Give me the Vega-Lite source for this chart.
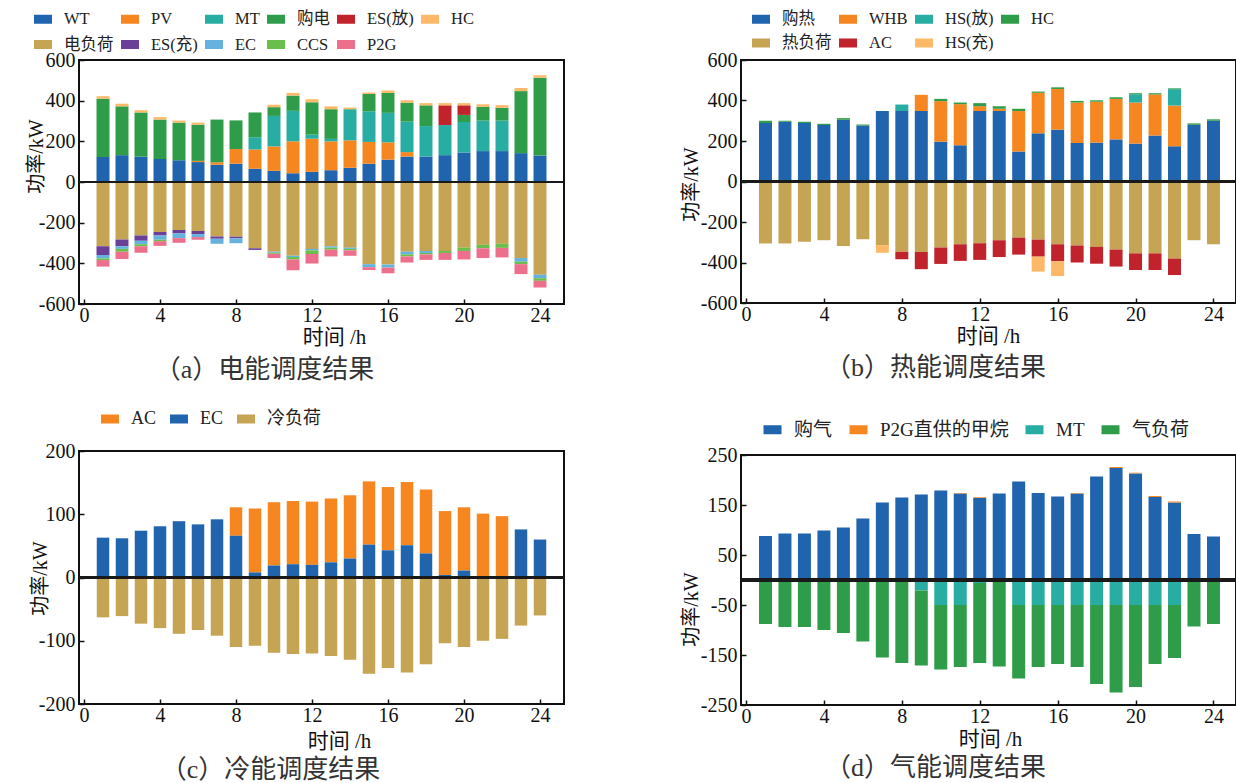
{
  "$schema": "https://vega.github.io/schema/vega-lite/v6.json",
  "padding": {"left": 25, "top": 9, "right": 0, "bottom": 0},
  "background": "#ffffff",
  "config": {
    "font": "Liberation Serif, Times New Roman, Noto Sans CJK SC, serif",
    "view": {"stroke": "#111111", "strokeWidth": 2},
    "axis": {
      "grid": false, "domain": false, "ticks": true, "tickSize": -5, "tickColor": "#111111", "tickWidth": 1.5,
      "labelFont": "Liberation Serif, Times New Roman, serif", "labelFontSize": 20, "labelColor": "#111111", "labelPadding": 6,
      "labelFlush": false, "labelOverlap": false,
      "titleFont": "Liberation Serif, Times New Roman, Noto Sans CJK SC, serif", "titleFontSize": 20, "titleFontWeight": "normal", "titleColor": "#111111"
    },
    "axisY": {"titleAngle": -90, "titleAlign": "center", "titleBaseline": "middle", "labelPadding": 9},
    "axisX": {"titleAlign": "center", "titleBaseline": "middle", "titleFontSize": 21, "labelPadding": 6},
    "legend": {
      "orient": "none", "direction": "horizontal", "padding": 0,
      "labelFont": "Liberation Serif, Times New Roman, Noto Sans CJK SC, serif", "labelFontSize": 16.5, "labelColor": "#222222",
      "symbolType": "M-1,-0.5H1V0.5H-1Z", "symbolSize": 324, "symbolStrokeWidth": 0, "symbolOpacity": 1,
      "labelOffset": 12, "columnPadding": 7, "rowPadding": 7
    },
    "title": {"orient": "bottom", "anchor": "middle", "fontSize": 26, "fontWeight": "normal", "font": "Liberation Serif, Times New Roman, Noto Sans CJK SC, serif", "color": "#333333", "offset": 8}
  },
  "datasets": {
    "elec": [
      {"h": 1, "WT": 123, "PV": 0, "MT": 0, "购电": 287, "ES(放)": 0, "HC": 12, "电负荷": -316, "ES(充)": -43, "EC": -17, "CCS": -8, "P2G": -32},
      {"h": 2, "WT": 132, "PV": 0, "MT": 0, "购电": 240, "ES(放)": 0, "HC": 13, "电负荷": -283, "ES(充)": -33, "EC": -13, "CCS": -14, "P2G": -36},
      {"h": 3, "WT": 125, "PV": 0, "MT": 0, "购电": 217, "ES(放)": 0, "HC": 11, "电负荷": -263, "ES(充)": -26, "EC": -17, "CCS": -10, "P2G": -32},
      {"h": 4, "WT": 113, "PV": 0, "MT": 0, "购电": 194, "ES(放)": 0, "HC": 12, "电负荷": -246, "ES(充)": -17, "EC": -21, "CCS": -7, "P2G": -23},
      {"h": 5, "WT": 107, "PV": 0, "MT": 0, "购电": 185, "ES(放)": 0, "HC": 10, "电负荷": -236, "ES(充)": -17, "EC": -23, "CCS": 0, "P2G": -23},
      {"h": 6, "WT": 98, "PV": 6, "MT": 0, "购电": 178, "ES(放)": 0, "HC": 10, "电负荷": -241, "ES(充)": -15, "EC": -15, "CCS": 0, "P2G": -13},
      {"h": 7, "WT": 85, "PV": 12, "MT": 0, "购电": 210, "ES(放)": 0, "HC": 0, "电负荷": -268, "ES(充)": -11, "EC": -25, "CCS": 0, "P2G": 0},
      {"h": 8, "WT": 90, "PV": 72, "MT": 0, "购电": 141, "ES(放)": 0, "HC": 0, "电负荷": -269, "ES(充)": -8, "EC": -24, "CCS": 0, "P2G": 0},
      {"h": 9, "WT": 65, "PV": 95, "MT": 60, "购电": 122, "ES(放)": 0, "HC": 0, "电负荷": -326, "ES(充)": -8, "EC": 0, "CCS": 0, "P2G": 0},
      {"h": 10, "WT": 55, "PV": 120, "MT": 150, "购电": 43, "ES(放)": 0, "HC": 12, "电负荷": -343, "ES(充)": 0, "EC": -5, "CCS": -5, "P2G": -21},
      {"h": 11, "WT": 43, "PV": 157, "MT": 150, "购电": 75, "ES(放)": 0, "HC": 13, "电负荷": -363, "ES(充)": 0, "EC": -6, "CCS": -12, "P2G": -53},
      {"h": 12, "WT": 50, "PV": 163, "MT": 20, "购电": 159, "ES(放)": 0, "HC": 15, "电负荷": -329, "ES(充)": 0, "EC": -7, "CCS": -18, "P2G": -47},
      {"h": 13, "WT": 58, "PV": 142, "MT": 12, "购电": 146, "ES(放)": 0, "HC": 14, "电负荷": -316, "ES(充)": 0, "EC": -7, "CCS": -10, "P2G": -33},
      {"h": 14, "WT": 70, "PV": 135, "MT": 153, "购电": 0, "ES(放)": 0, "HC": 8, "电负荷": -323, "ES(充)": 0, "EC": -6, "CCS": -7, "P2G": -27},
      {"h": 15, "WT": 90, "PV": 107, "MT": 151, "购电": 85, "ES(放)": 0, "HC": 7, "电负荷": -404, "ES(充)": 0, "EC": -15, "CCS": 0, "P2G": -14},
      {"h": 16, "WT": 110, "PV": 85, "MT": 145, "购电": 98, "ES(放)": 0, "HC": 12, "电负荷": -406, "ES(充)": 0, "EC": -15, "CCS": 0, "P2G": -28},
      {"h": 17, "WT": 125, "PV": 22, "MT": 150, "购电": 93, "ES(放)": 0, "HC": 12, "电负荷": -343, "ES(充)": 0, "EC": -13, "CCS": -10, "P2G": -30},
      {"h": 18, "WT": 125, "PV": 0, "MT": 150, "购电": 102, "ES(放)": 0, "HC": 11, "电负荷": -339, "ES(充)": 0, "EC": -10, "CCS": -7, "P2G": -27},
      {"h": 19, "WT": 132, "PV": 0, "MT": 148, "购电": 0, "ES(放)": 97, "HC": 11, "电负荷": -339, "ES(充)": 0, "EC": 0, "CCS": -10, "P2G": -34},
      {"h": 20, "WT": 145, "PV": 0, "MT": 150, "购电": 35, "ES(放)": 47, "HC": 11, "电负荷": -323, "ES(充)": 0, "EC": 0, "CCS": -16, "P2G": -42},
      {"h": 21, "WT": 152, "PV": 0, "MT": 150, "购电": 68, "ES(放)": 0, "HC": 12, "电负荷": -309, "ES(充)": 0, "EC": 0, "CCS": -17, "P2G": -48},
      {"h": 22, "WT": 152, "PV": 0, "MT": 150, "购电": 63, "ES(放)": 0, "HC": 13, "电负荷": -304, "ES(充)": 0, "EC": 0, "CCS": -20, "P2G": -47},
      {"h": 23, "WT": 142, "PV": 0, "MT": 0, "购电": 305, "ES(放)": 0, "HC": 15, "电负荷": -374, "ES(充)": 0, "EC": -18, "CCS": -12, "P2G": -49},
      {"h": 24, "WT": 130, "PV": 0, "MT": 0, "购电": 383, "ES(放)": 0, "HC": 12, "电负荷": -456, "ES(充)": 0, "EC": -17, "CCS": -13, "P2G": -33}
    ],
    "heat": [
      {"h": 1, "购热": 289, "WHB": 0, "HS(放)": 0, "HC": 11, "热负荷": -306, "AC": 0, "HS(充)": 0},
      {"h": 2, "购热": 295, "WHB": 0, "HS(放)": 0, "HC": 5, "热负荷": -306, "AC": 0, "HS(充)": 0},
      {"h": 3, "购热": 289, "WHB": 0, "HS(放)": 0, "HC": 6, "热负荷": -298, "AC": 0, "HS(充)": 0},
      {"h": 4, "购热": 279, "WHB": 0, "HS(放)": 0, "HC": 6, "热负荷": -290, "AC": 0, "HS(充)": 0},
      {"h": 5, "购热": 305, "WHB": 0, "HS(放)": 0, "HC": 8, "热负荷": -318, "AC": 0, "HS(充)": 0},
      {"h": 6, "购热": 277, "WHB": 0, "HS(放)": 0, "HC": 5, "热负荷": -285, "AC": 0, "HS(充)": 0},
      {"h": 7, "购热": 348, "WHB": 0, "HS(放)": 0, "HC": 0, "热负荷": -314, "AC": 0, "HS(充)": -38},
      {"h": 8, "购热": 348, "WHB": 0, "HS(放)": 32, "HC": 0, "热负荷": -347, "AC": -37, "HS(充)": 0},
      {"h": 9, "购热": 348, "WHB": 80, "HS(放)": 0, "HC": 0, "热负荷": -348, "AC": -85, "HS(充)": 0},
      {"h": 10, "购热": 197, "WHB": 200, "HS(放)": 0, "HC": 11, "热负荷": -326, "AC": -81, "HS(充)": 0},
      {"h": 11, "购热": 179, "WHB": 203, "HS(放)": 0, "HC": 8, "热负荷": -310, "AC": -82, "HS(充)": 0},
      {"h": 12, "购热": 348, "WHB": 24, "HS(放)": 0, "HC": 15, "热负荷": -305, "AC": -82, "HS(充)": 0},
      {"h": 13, "购热": 348, "WHB": 11, "HS(放)": 0, "HC": 12, "热负荷": -290, "AC": -83, "HS(充)": 0},
      {"h": 14, "购热": 148, "WHB": 200, "HS(放)": 0, "HC": 11, "热负荷": -277, "AC": -84, "HS(充)": 0},
      {"h": 15, "购热": 238, "WHB": 200, "HS(放)": 0, "HC": 6, "热负荷": -287, "AC": -84, "HS(充)": -74},
      {"h": 16, "购热": 256, "WHB": 201, "HS(放)": 0, "HC": 8, "热负荷": -310, "AC": -84, "HS(充)": -73},
      {"h": 17, "购热": 190, "WHB": 200, "HS(放)": 0, "HC": 8, "热负荷": -316, "AC": -84, "HS(充)": 0},
      {"h": 18, "购热": 192, "WHB": 202, "HS(放)": 0, "HC": 7, "热负荷": -323, "AC": -83, "HS(充)": 0},
      {"h": 19, "购热": 208, "WHB": 200, "HS(放)": 0, "HC": 8, "热负荷": -336, "AC": -84, "HS(充)": 0},
      {"h": 20, "购热": 187, "WHB": 203, "HS(放)": 41, "HC": 5, "热负荷": -355, "AC": -82, "HS(充)": 0},
      {"h": 21, "购热": 227, "WHB": 203, "HS(放)": 0, "HC": 6, "热负荷": -355, "AC": -82, "HS(充)": 0},
      {"h": 22, "购热": 174, "WHB": 201, "HS(放)": 81, "HC": 4, "热负荷": -381, "AC": -81, "HS(充)": 0},
      {"h": 23, "购热": 280, "WHB": 0, "HS(放)": 0, "HC": 7, "热负荷": -290, "AC": 0, "HS(充)": 0},
      {"h": 24, "购热": 300, "WHB": 0, "HS(放)": 0, "HC": 7, "热负荷": -310, "AC": 0, "HS(充)": 0}
    ],
    "cold": [
      {"h": 1, "AC": 0, "EC": 63, "冷负荷": -63},
      {"h": 2, "AC": 0, "EC": 62, "冷负荷": -61},
      {"h": 3, "AC": 0, "EC": 74, "冷负荷": -73},
      {"h": 4, "AC": 0, "EC": 81, "冷负荷": -80},
      {"h": 5, "AC": 0, "EC": 89, "冷负荷": -89},
      {"h": 6, "AC": 0, "EC": 84, "冷负荷": -83},
      {"h": 7, "AC": 0, "EC": 92, "冷负荷": -92},
      {"h": 8, "AC": 45, "EC": 66, "冷负荷": -110},
      {"h": 9, "AC": 101, "EC": 8, "冷负荷": -108},
      {"h": 10, "AC": 100, "EC": 19, "冷负荷": -119},
      {"h": 11, "AC": 100, "EC": 21, "冷负荷": -121},
      {"h": 12, "AC": 100, "EC": 20, "冷负荷": -120},
      {"h": 13, "AC": 101, "EC": 24, "冷负荷": -124},
      {"h": 14, "AC": 100, "EC": 30, "冷负荷": -130},
      {"h": 15, "AC": 100, "EC": 52, "冷负荷": -152},
      {"h": 16, "AC": 100, "EC": 43, "冷负荷": -143},
      {"h": 17, "AC": 100, "EC": 51, "冷负荷": -150},
      {"h": 18, "AC": 101, "EC": 38, "冷负荷": -137},
      {"h": 19, "AC": 101, "EC": 4, "冷负荷": -104},
      {"h": 20, "AC": 100, "EC": 11, "冷负荷": -110},
      {"h": 21, "AC": 100, "EC": 1, "冷负荷": -100},
      {"h": 22, "AC": 97, "EC": 0, "冷负荷": -97},
      {"h": 23, "AC": 0, "EC": 76, "冷负荷": -76},
      {"h": 24, "AC": 0, "EC": 60, "冷负荷": -60}
    ],
    "gas": [
      {"h": 1, "购气": 88, "P2G直供的甲烷": 0, "MT": 0, "气负荷": -88},
      {"h": 2, "购气": 93, "P2G直供的甲烷": 0, "MT": 0, "气负荷": -94},
      {"h": 3, "购气": 93, "P2G直供的甲烷": 0, "MT": 0, "气负荷": -94},
      {"h": 4, "购气": 99, "P2G直供的甲烷": 0, "MT": 0, "气负荷": -100},
      {"h": 5, "购气": 105, "P2G直供的甲烷": 0, "MT": 0, "气负荷": -106},
      {"h": 6, "购气": 123, "P2G直供的甲烷": 0, "MT": 0, "气负荷": -123},
      {"h": 7, "购气": 155, "P2G直供的甲烷": 0, "MT": 0, "气负荷": -155},
      {"h": 8, "购气": 165, "P2G直供的甲烷": 0, "MT": 0, "气负荷": -166},
      {"h": 9, "购气": 171, "P2G直供的甲烷": 0, "MT": -21, "气负荷": -150},
      {"h": 10, "购气": 179, "P2G直供的甲烷": 0, "MT": -50, "气负荷": -129},
      {"h": 11, "购气": 173, "P2G直供的甲烷": 1, "MT": -50, "气负荷": -124},
      {"h": 12, "购气": 164, "P2G直供的甲烷": 1.5, "MT": -6, "气负荷": -160},
      {"h": 13, "购气": 173, "P2G直供的甲烷": 0, "MT": 0, "气负荷": -173},
      {"h": 14, "购气": 197, "P2G直供的甲烷": 0, "MT": -50, "气负荷": -147},
      {"h": 15, "购气": 174, "P2G直供的甲烷": 0, "MT": -50, "气负荷": -124},
      {"h": 16, "购气": 167, "P2G直供的甲烷": 0, "MT": -50, "气负荷": -118},
      {"h": 17, "购气": 173, "P2G直供的甲烷": 1, "MT": -50, "气负荷": -124},
      {"h": 18, "购气": 207, "P2G直供的甲烷": 0, "MT": -50, "气负荷": -158},
      {"h": 19, "购气": 224, "P2G直供的甲烷": 2, "MT": -50, "气负荷": -175},
      {"h": 20, "购气": 213, "P2G直供的甲烷": 1.5, "MT": -50, "气负荷": -164},
      {"h": 21, "购气": 166, "P2G直供的甲烷": 2, "MT": -50, "气负荷": -118},
      {"h": 22, "购气": 155, "P2G直供的甲烷": 2, "MT": -50, "气负荷": -106},
      {"h": 23, "购气": 92, "P2G直供的甲烷": 0, "MT": 0, "气负荷": -93},
      {"h": 24, "购气": 87, "P2G直供的甲烷": 0, "MT": 0, "气负荷": -88}
    ]
  },
  "resolve": {"scale": {"color": "independent", "x": "independent", "y": "independent"}, "legend": {"color": "independent"}},
  "spacing": 113,
  "hconcat": [
    {
      "spacing": 25,
      "resolve": {"scale": {"color": "independent", "x": "independent", "y": "independent"}, "legend": {"color": "independent"}},
      "vconcat": [
        {
          "width": 485, "height": 244,
          "data": {"name": "elec"},
          "title": {"text": "（a）电能调度结果", "dx": -57, "offset": 10},
          "layer": [
            {
              "transform": [
                {"fold": ["WT", "PV", "MT", "购电", "ES(放)", "HC", "电负荷", "ES(充)", "EC", "CCS", "P2G"], "as": ["series", "value"]},
                {"calculate": "indexof(['WT','PV','MT','购电','ES(放)','HC','电负荷','ES(充)','EC','CCS','P2G'], datum.series)", "as": "rank"}
              ],
              "mark": {"type": "bar", "width": 13},
              "encoding": {
                "x": {"field": "h", "type": "quantitative", "scale": {"domain": [0, 25], "nice": false, "zero": false},
                      "axis": {"values": [0, 4, 8, 12, 16, 20, 24], "labelOverlap": false, "title": "时间 /h", "titleX": 255, "titleY": 33}},
                "y": {"field": "value", "type": "quantitative", "stack": "zero", "scale": {"domain": [-600, 600], "nice": false},
                      "axis": {"values": [-600, -400, -200, 0, 200, 400, 600], "labelOverlap": false, "labelExpr": "datum.value", "title": "功率/kW", "titleX": -43, "titleY": 96}},
                "color": {"field": "series", "type": "nominal",
                          "scale": {"domain": ["WT", "PV", "MT", "购电", "ES(放)", "HC", "电负荷", "ES(充)", "EC", "CCS", "P2G"],
                                    "range": ["#2164ae", "#f58620", "#28ada2", "#2e9c48", "#c0232b", "#fdb968", "#c5a554", "#6a3f98", "#66b2de", "#6abf4c", "#ec6f8c"]},
                          "legend": {"title": null, "columns": 6, "legendX": -45, "legendY": -50, "rowPadding": 7.5, "columnPadding": 7}},
                "order": {"field": "rank", "type": "quantitative"}
              }
            },
            {
              "mark": {"type": "rule", "color": "#1a1a1a", "strokeWidth": 1.5},
              "encoding": {"y": {"datum": 0}}
            }
          ]
        },
        {
          "width": 485, "height": 253,
          "data": {"name": "cold"},
          "title": {"text": "（c）冷能调度结果", "dx": -51, "offset": 6},
          "layer": [
            {
              "transform": [
                {"fold": ["AC", "EC", "冷负荷"], "as": ["series", "value"]},
                {"calculate": "indexof(['EC','AC','冷负荷'], datum.series)", "as": "rank"}
              ],
              "mark": {"type": "bar", "width": 12.5},
              "encoding": {
                "x": {"field": "h", "type": "quantitative", "scale": {"domain": [0, 25], "nice": false, "zero": false},
                      "axis": {"values": [0, 4, 8, 12, 16, 20, 24], "labelOverlap": false, "title": "时间 /h", "titleX": 260, "titleY": 37}},
                "y": {"field": "value", "type": "quantitative", "stack": "zero", "scale": {"domain": [-200, 200], "nice": false},
                      "axis": {"values": [-200, -150, -100, -50, 0, 50, 100, 150, 200], "labelOverlap": false, "labelExpr": "datum.value", "title": "功率/kW", "titleX": -39, "titleY": 127}},
                "color": {"field": "series", "type": "nominal",
                          "scale": {"domain": ["AC", "EC", "冷负荷"], "range": ["#f58620", "#2164ae", "#c5a554"]},
                          "legend": {"title": null, "columns": 3, "legendX": 22, "legendY": -41, "labelFontSize": 18, "columnPadding": 13}},
                "order": {"field": "rank", "type": "quantitative"}
              }
            },
            {
              "mark": {"type": "rule", "color": "#1a1a1a", "strokeWidth": 2.5},
              "encoding": {"y": {"datum": 0}}
            }
          ]
        }
      ]
    },
    {
      "spacing": 37,
      "resolve": {"scale": {"color": "independent", "x": "independent", "y": "independent"}, "legend": {"color": "independent"}},
      "vconcat": [
        {
          "width": 495, "height": 243,
          "data": {"name": "heat"},
          "title": {"text": "（b）热能调度结果", "dx": -53, "offset": 9},
          "layer": [
            {
              "transform": [
                {"fold": ["购热", "WHB", "HS(放)", "HC", "热负荷", "AC", "HS(充)"], "as": ["series", "value"]},
                {"calculate": "indexof(['购热','WHB','HS(放)','HC','热负荷','AC','HS(充)'], datum.series)", "as": "rank"}
              ],
              "mark": {"type": "bar", "width": 13},
              "encoding": {
                "x": {"field": "h", "type": "quantitative", "scale": {"domain": [0, 24.9], "nice": false, "zero": false},
                      "axis": {"values": [0, 4, 8, 12, 16, 20, 24], "labelOverlap": false, "title": "时间 /h", "titleX": 247, "titleY": 33}},
                "y": {"field": "value", "type": "quantitative", "stack": "zero", "scale": {"domain": [-600, 600], "nice": false},
                      "axis": {"values": [-600, -400, -200, 0, 200, 400, 600], "labelOverlap": false, "labelExpr": "datum.value", "title": "功率/kW", "titleX": -50, "titleY": 124}},
                "color": {"field": "series", "type": "nominal",
                          "scale": {"domain": ["购热", "WHB", "HS(放)", "HC", "热负荷", "AC", "HS(充)"],
                                    "range": ["#2164ae", "#f58620", "#28ada2", "#2e9c48", "#c5a554", "#c0232b", "#fdb968"]},
                          "legend": {"title": null, "columns": 4, "legendX": 11, "legendY": -50, "rowPadding": 6, "columnPadding": 7}},
                "order": {"field": "rank", "type": "quantitative"}
              }
            },
            {
              "mark": {"type": "rule", "color": "#1a1a1a", "strokeWidth": 2.5},
              "encoding": {"y": {"datum": 0}}
            }
          ]
        },
        {
          "width": 495, "height": 250,
          "data": {"name": "gas"},
          "title": {"text": "（d）气能调度结果", "dx": -53, "offset": 6},
          "layer": [
            {
              "transform": [
                {"fold": ["购气", "P2G直供的甲烷", "MT", "气负荷"], "as": ["series", "value"]},
                {"calculate": "indexof(['购气','P2G直供的甲烷','MT','气负荷'], datum.series)", "as": "rank"}
              ],
              "mark": {"type": "bar", "width": 13},
              "encoding": {
                "x": {"field": "h", "type": "quantitative", "scale": {"domain": [0, 24.9], "nice": false, "zero": false},
                      "axis": {"values": [0, 4, 8, 12, 16, 20, 24], "labelOverlap": false, "title": "时间 /h", "titleX": 249, "titleY": 34}},
                "y": {"field": "value", "type": "quantitative", "stack": "zero", "scale": {"domain": [-250, 250], "nice": false},
                      "axis": {"values": [-250, -200, -150, -100, -50, 0, 50, 100, 150, 200, 250], "labelOverlap": false, "labelExpr": "datum.value", "title": "功率/kW", "titleX": -50, "titleY": 154}},
                "color": {"field": "series", "type": "nominal",
                          "scale": {"domain": ["购气", "P2G直供的甲烷", "MT", "气负荷"], "range": ["#2164ae", "#f58620", "#28ada2", "#2e9c48"]},
                          "legend": {"title": null, "columns": 4, "legendX": 22, "legendY": -35, "labelFontSize": 19, "columnPadding": 16}},
                "order": {"field": "rank", "type": "quantitative"}
              }
            },
            {
              "mark": {"type": "rule", "color": "#1a1a1a", "strokeWidth": 2.5},
              "encoding": {"y": {"datum": 0}}
            }
          ]
        }
      ]
    }
  ]
}
